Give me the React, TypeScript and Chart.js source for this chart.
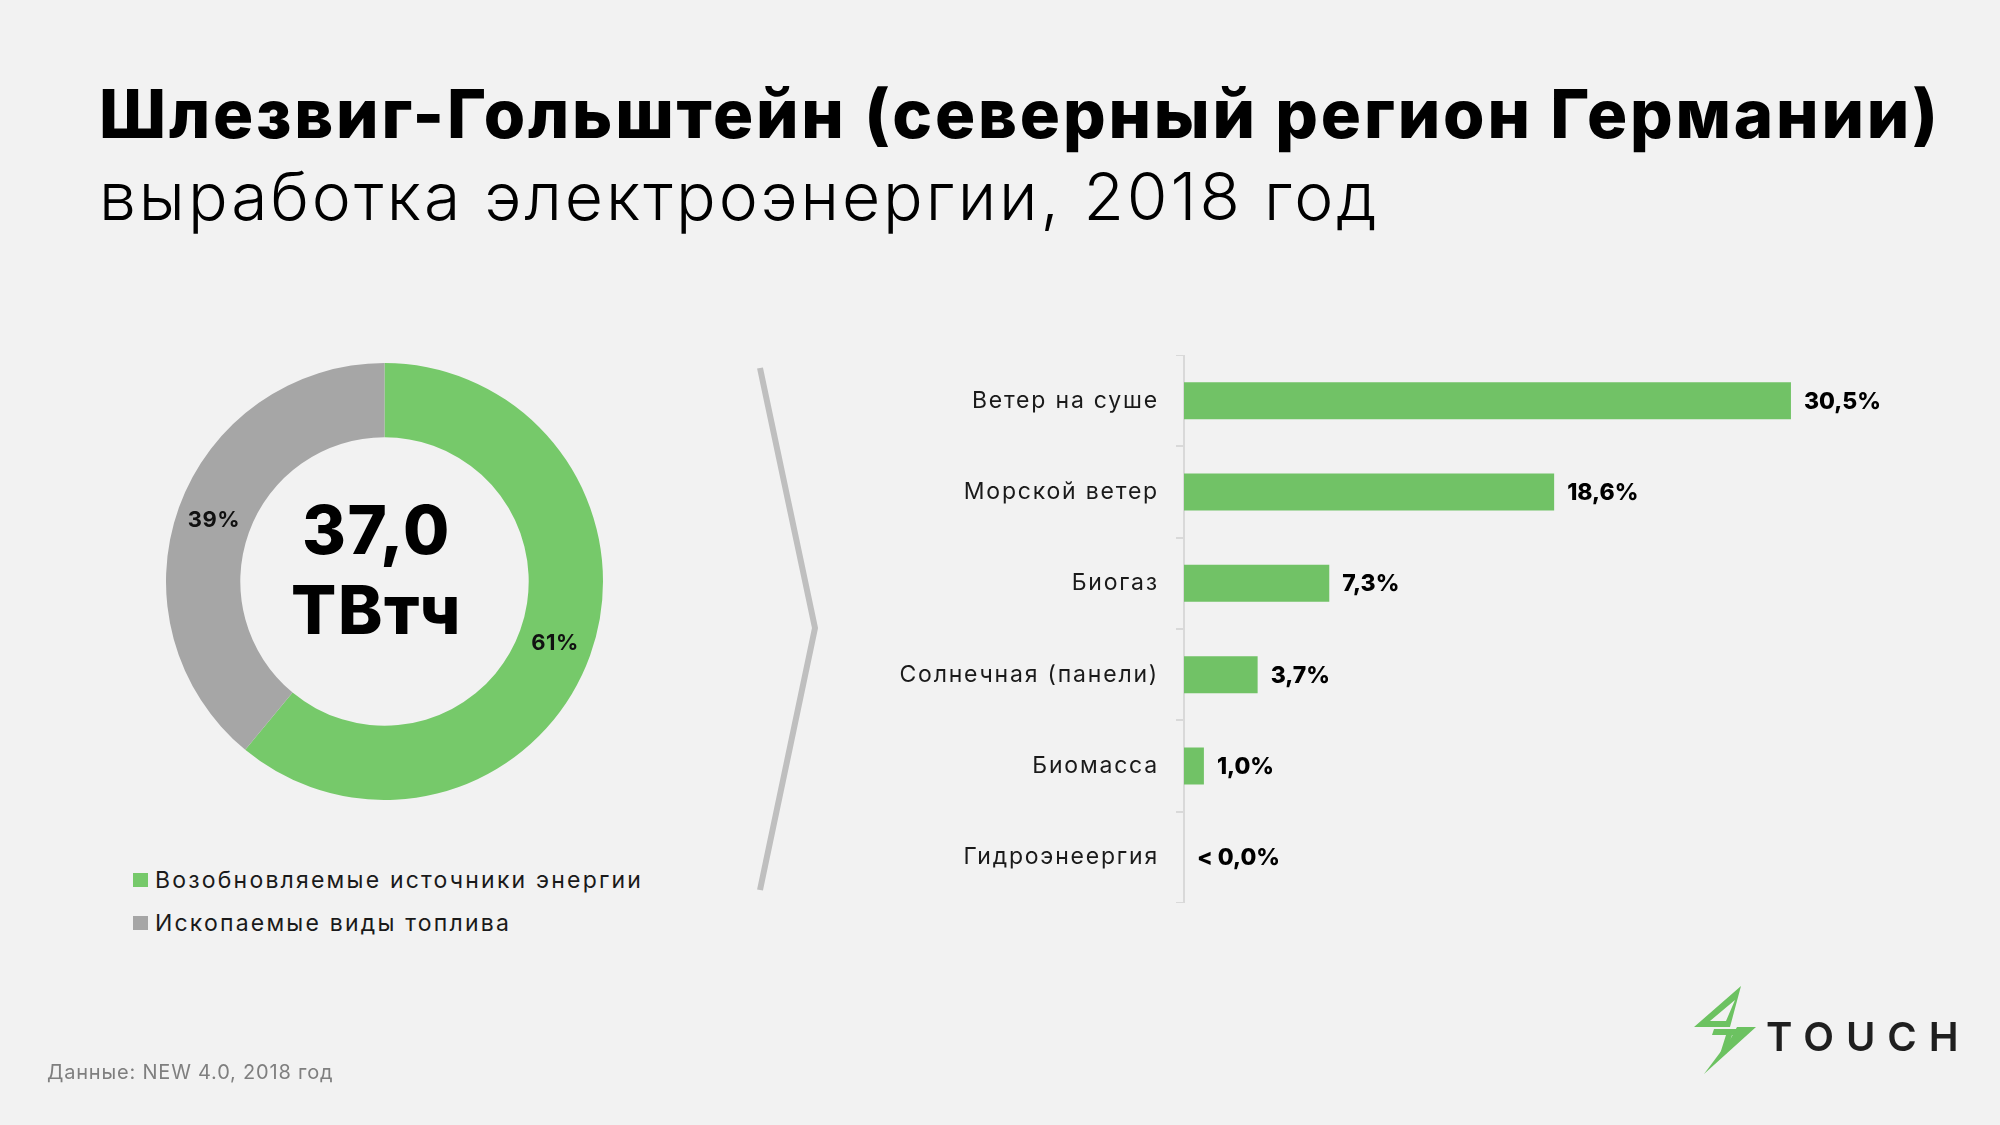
import React, { useEffect, useRef } from "react";
import { Chart, registerables } from "chart.js";

Chart.register(...registerables);

const FONT = "Inter, 'Noto Sans', sans-serif";

const titleLine1 = "Шлезвиг-Гольштейн (северный регион Германии)";
const titleLine2 = "выработка электроэнергии, 2018 год";
const sourceNote = "Данные: NEW 4.0, 2018 год";
const brandName = "TOUCH";

const totalValue = "37,0";
const totalUnit = "ТВтч";

const shareLabels = ["Возобновляемые источники энергии", "Ископаемые виды топлива"];
const shareValues = [61, 39];
const shareColors = ["#76C96A", "#A6A6A6"];

const sourceCategories = [
  "Ветер на суше",
  "Морской ветер",
  "Биогаз",
  "Солнечная (панели)",
  "Биомасса",
  "Гидроэнеергия",
];
const sourceValues = [30.5, 18.6, 7.3, 3.7, 1.0, 0.0];
const sourceValueLabels = ["30,5%", "18,6%", "7,3%", "3,7%", "1,0%", "< 0,0%"];
const barColor = "#71C266";

const donutLabelsPlugin = {
  id: "donutLabels",
  afterDatasetsDraw(chart: any) {
    const { ctx, chartArea } = chart;
    const meta = chart.getDatasetMeta(0);
    ctx.save();
    ctx.fillStyle = "#111111";
    ctx.textAlign = "center";
    ctx.textBaseline = "middle";
    ctx.font = `700 22px ${FONT}`;
    (ctx as any).letterSpacing = "0.5px";
    meta.data.forEach((arc: any, i: number) => {
      const p = arc.getCenterPoint(false);
      ctx.fillText(shareValues[i] + "%", p.x, p.y);
    });
    const cx = (chartArea.left + chartArea.right) / 2 - 8;
    const cy = (chartArea.top + chartArea.bottom) / 2;
    ctx.fillStyle = "#000000";
    ctx.textBaseline = "alphabetic";
    ctx.font = `800 67px ${FONT}`;
    (ctx as any).letterSpacing = "1.5px";
    ctx.fillText(totalValue, cx, cy - 28);
    ctx.fillText(totalUnit, cx, cy + 52);
    ctx.restore();
  },
};

const tickSpacingPlugin = {
  id: "tickSpacing",
  beforeDraw(chart: any) {
    (chart.ctx as any).letterSpacing = "1.8px";
  },
  afterDraw(chart: any) {
    (chart.ctx as any).letterSpacing = "0px";
  },
};

const barValuesPlugin = {
  id: "barValues",
  afterDatasetsDraw(chart: any) {
    const { ctx } = chart;
    const meta = chart.getDatasetMeta(0);
    ctx.save();
    (ctx as any).letterSpacing = "0px";
    ctx.fillStyle = "#000000";
    ctx.textAlign = "left";
    ctx.textBaseline = "middle";
    ctx.font = `800 23px ${FONT}`;
    meta.data.forEach((bar: any, i: number) => {
      ctx.fillText(sourceValueLabels[i], bar.x + 13, bar.y + 1);
    });
    ctx.restore();
  },
};

export default function App() {
  const donutRef = useRef<HTMLCanvasElement>(null);
  const barRef = useRef<HTMLCanvasElement>(null);

  useEffect(() => {
    const donut = new Chart(donutRef.current as HTMLCanvasElement, {
      type: "doughnut",
      data: {
        labels: shareLabels,
        datasets: [{ data: shareValues, backgroundColor: shareColors, borderWidth: 0 }],
      },
      options: {
        responsive: false,
        animation: false,
        devicePixelRatio: 1,
        cutout: "66%",
        layout: { padding: 0 },
        plugins: { legend: { display: false }, tooltip: { enabled: false } },
      },
      plugins: [donutLabelsPlugin],
    } as any);

    const bar = new Chart(barRef.current as HTMLCanvasElement, {
      type: "bar",
      data: {
        labels: sourceCategories,
        datasets: [
          {
            data: sourceValues,
            backgroundColor: barColor,
            borderWidth: 0,
            barPercentage: 0.405,
            categoryPercentage: 1,
          },
        ],
      },
      options: {
        indexAxis: "y",
        responsive: false,
        animation: false,
        devicePixelRatio: 1,
        layout: { padding: 0 },
        plugins: { legend: { display: false }, tooltip: { enabled: false } },
        scales: {
          x: { display: false, min: 0, max: 40 },
          y: {
            afterFit: (s: any) => {
              s.width = 324;
              s.paddingTop = 0;
              s.paddingBottom = 0;
            },
            grid: {
              display: true,
              drawOnChartArea: false,
              drawTicks: true,
              tickLength: 8,
              color: "#D9D9D9",
              lineWidth: 2,
              offset: true,
            },
            border: { display: true, color: "#D9D9D9", width: 2 },
            ticks: {
              color: "#1A1A1A",
              font: { family: FONT, size: 23, weight: "400" },
              padding: 17,
            },
          },
        },
      },
      plugins: [tickSpacingPlugin, barValuesPlugin],
    } as any);

    return () => {
      donut.destroy();
      bar.destroy();
    };
  }, []);

  return (
    <div
      style={{
        position: "absolute",
        left: 0,
        top: 0,
        width: 2000,
        height: 1125,
        background: "#F2F2F2",
        overflow: "hidden",
        fontFamily: FONT,
      }}
    >
      <div
        style={{
          position: "absolute",
          left: 99,
          top: 80,
          fontSize: 67,
          fontWeight: 800,
          letterSpacing: 2.8,
          lineHeight: 1,
          whiteSpace: "nowrap",
          color: "#000",
        }}
      >
        {titleLine1}
      </div>
      <div
        style={{
          position: "absolute",
          left: 99,
          top: 163,
          fontSize: 66,
          fontWeight: 300,
          letterSpacing: 2.9,
          lineHeight: 1,
          whiteSpace: "nowrap",
          color: "#000",
        }}
      >
        {titleLine2}
      </div>

      <canvas
        ref={donutRef}
        width={437}
        height={437}
        style={{ position: "absolute", left: 166, top: 363, width: 437, height: 437 }}
      />

      <div style={{ position: "absolute", left: 133, top: 858 }}>
        {shareLabels.map((l, i) => (
          <div key={l} style={{ display: "flex", alignItems: "center", height: 43 }}>
            <div style={{ width: 15, height: 14, background: shareColors[i], marginRight: 7 }} />
            <div
              style={{ fontSize: 23, letterSpacing: 2.2, color: "#1A1A1A", whiteSpace: "nowrap" }}
            >
              {l}
            </div>
          </div>
        ))}
      </div>

      <svg
        width={2000}
        height={1125}
        style={{ position: "absolute", left: 0, top: 0, pointerEvents: "none" }}
      >
        <polyline
          points="760,368 815,628 760,890"
          fill="none"
          stroke="#BFBFBF"
          strokeWidth={6}
          strokeLinejoin="miter"
        />
        <g transform="translate(1680,980)" fill="#6CC261" stroke="none">
          <path d="M61,6 L14,47 L50,47 Z M55,20 L30,41 L46,41 Z" fillRule="evenodd" />
          <path d="M34,49 L64,49 L62,55 L52,55 L46,74 L40,74 L46,55 L32,55 Z" />
          <path d="M57,47 L76,47 L24,94 L51,58 Z" />
        </g>
      </svg>

      <canvas
        ref={barRef}
        width={1120}
        height={548}
        style={{ position: "absolute", left: 860, top: 355, width: 1120, height: 548 }}
      />

      <div
        style={{
          position: "absolute",
          left: 1766,
          top: 1017,
          fontSize: 40,
          fontWeight: 600,
          letterSpacing: 12,
          lineHeight: 1,
          color: "#1F1F1F",
        }}
      >
        {brandName}
      </div>

      <div
        style={{
          position: "absolute",
          left: 47,
          top: 1062,
          fontSize: 20,
          letterSpacing: 0.8,
          color: "#7F7F7F",
          lineHeight: 1,
          whiteSpace: "nowrap",
        }}
      >
        {sourceNote}
      </div>
    </div>
  );
}
